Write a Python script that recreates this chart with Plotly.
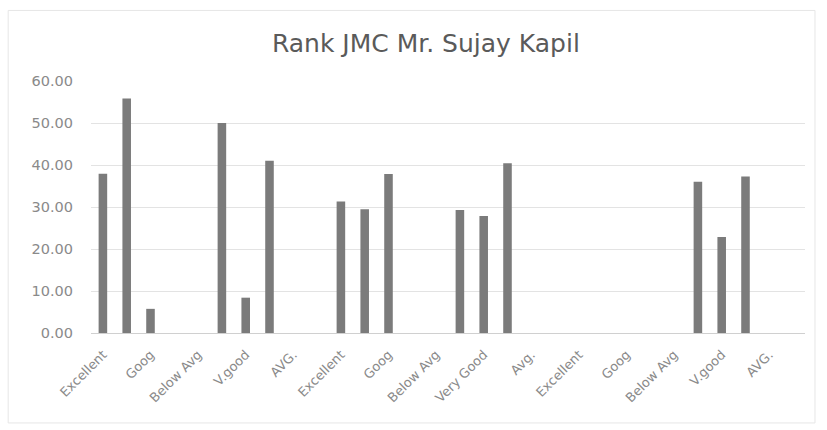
import plotly.graph_objects as go

# Rating categories, five per block, six blocks
categories = [
    "Excellent", "V.good", "Goog", "AVG.", "Below Avg",
    "Excellent", "V.good", "Goog", "AVG.", "Below Avg",
    "Excellent", "Very Good", "Goog", "Avg.", "Below Avg",
    "Excellent", "Very Good", "Goog", "Avg.", "Below Avg",
    "Excellent", "V.good", "Goog", "AVG.", "Below Avg",
    "Excellent", "V.good", "Goog", "AVG.", "Below Avg",
]

values = [
    37.93, 55.86, 5.75, 0, 0,
    50.00, 8.41, 41.03, 0, 0,
    31.31, 29.44, 37.85, 0, 0,
    29.29, 27.86, 40.43, 0, 0,
    0, 0, 0, 0, 0,
    36.02, 22.88, 37.24, 0, 0,
]

y_ticks = [0, 10, 20, 30, 40, 50, 60]

positions = list(range(len(categories)))

FONT = "'DejaVu Sans', Verdana, sans-serif"

fig = go.Figure(
    go.Bar(
        x=positions,
        y=values,
        marker=dict(color="#7b7b7b", line=dict(width=0)),
        width=0.36,
    )
)

fig.update_layout(
    width=827,
    height=430,
    margin=dict(l=91, r=22, t=81, b=97),
    paper_bgcolor="white",
    plot_bgcolor="white",
    showlegend=False,
    font=dict(family=FONT, color="#8a8a8a"),
    title=dict(
        text="Rank JMC Mr. Sujay Kapil",
        x=0.515,
        xanchor="center",
        y=0.9,
        yanchor="middle",
        font=dict(size=25, color="#5a5a5a", family=FONT),
    ),
    xaxis=dict(
        range=[-0.5, len(categories) - 0.5],
        tickmode="array",
        tickvals=positions[::2],
        ticktext=categories[::2],
        tickangle=-45,
        tickfont=dict(size=13, color="#8a8a8a"),
        showgrid=False,
        showline=True,
        linecolor="#d0d0d0",
        linewidth=1,
        ticks="",
        zeroline=False,
        ticklabelstandoff=8,
    ),
    yaxis=dict(
        range=[0, 60],
        tickmode="array",
        tickvals=y_ticks,
        ticktext=[f"{v:.2f}" for v in y_ticks],
        tickfont=dict(size=14.5, color="#8a8a8a"),
        showgrid=True,
        gridcolor="#e3e3e3",
        gridwidth=1,
        zeroline=False,
        showline=False,
        ticks="",
        ticklabelstandoff=17,
    ),
    shapes=[
        dict(
            type="rect",
            xref="paper",
            yref="paper",
            x0=-0.116,
            x1=1.014,
            y0=-0.357,
            y1=1.28,
            line=dict(color="#e6e6e6", width=1),
            fillcolor="rgba(0,0,0,0)",
            layer="below",
        )
    ],
)

fig.write_html("out.html")
